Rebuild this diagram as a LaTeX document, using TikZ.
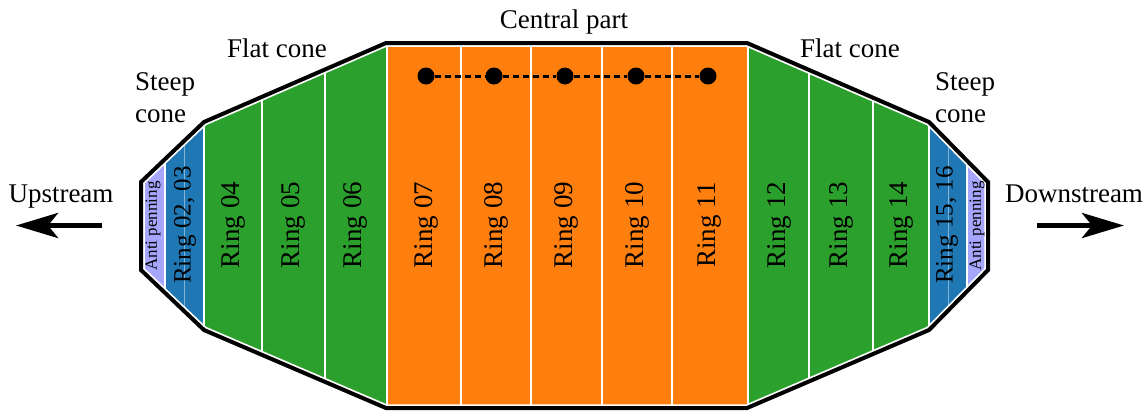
\documentclass[tikz,border=0pt]{standalone}
\usepackage{fontspec}
\setmainfont{Liberation Serif}
\usetikzlibrary{arrows.meta}
\definecolor{cOrange}{HTML}{FF7F0E}
\definecolor{cGreen}{HTML}{2CA02C}
\definecolor{cBlue}{HTML}{1F77B4}
\definecolor{cPurple}{RGB}{166,166,255}
\begin{document}
\begin{tikzpicture}[x=1pt,y=-1pt,
  lbl/.style={font=\fontsize{27}{32}\selectfont, inner sep=0pt},
  ring/.style={font=\fontsize{27}{32}\selectfont, rotate=90, inner sep=0pt},
  ringsm/.style={font=\fontsize{25}{30}\selectfont, rotate=90, inner sep=0pt},
  anti/.style={font=\fontsize{17}{20}\selectfont, rotate=90, inner sep=0pt},
  sep/.style={white, line width=2pt},
  thinsep/.style={white, opacity=0.45, line width=1pt},
  dot/.style={circle, fill=black, minimum size=17pt, inner sep=0pt},
  dline/.style={line width=3pt, dash pattern=on 6.5pt off 3.5pt},
  flow/.style={line width=5pt, -{Stealth[length=42pt,width=25pt,inset=10pt]}}
]
\useasboundingbox (0,0) rectangle (1148,413);
% cells
\begin{scope}
\clip (141,182) -- (204,122) -- (386,43) -- (747,43) -- (929,122) -- (988,182) -- (988,270) -- (929,330) -- (747,408) -- (386,408) -- (204,330) -- (141,270) -- cycle;
\fill[cPurple] (135,0) rectangle (164.5,413);
\fill[cBlue] (164.5,0) rectangle (204,413);
\fill[cGreen] (204,0) rectangle (386.5,413);
\fill[cOrange] (386.5,0) rectangle (747.5,413);
\fill[cGreen] (747.5,0) rectangle (929,413);
\fill[cBlue] (929,0) rectangle (967,413);
\fill[cPurple] (967,0) rectangle (995,413);
\foreach \x in {164.5,204,262,324.5,386.5,461,531,602,672,747.5,809,873,929,967}
  \draw[sep] (\x,0) -- (\x,413);
\foreach \x in {184,948}
  \draw[thinsep] (\x,0) -- (\x,413);
\end{scope}
% outline
\draw[white, line width=7.5pt] (141,182) -- (204,122) -- (386,43) -- (747,43) -- (929,122) -- (988,182) -- (988,270) -- (929,330) -- (747,408) -- (386,408) -- (204,330) -- (141,270) -- cycle;
\draw[black, line width=4pt] (141,182) -- (204,122) -- (386,43) -- (747,43) -- (929,122) -- (988,182) -- (988,270) -- (929,330) -- (747,408) -- (386,408) -- (204,330) -- (141,270) -- cycle;
% ring labels
\node[anti] (apL) at (153,226) {Anti penning};
\node[ringsm] (r0203) at (185,225) {Ring 02, 03};
\node[ring] (r04) at (233,225) {Ring 04};
\node[ring] (r05) at (293.5,225) {Ring 05};
\node[ring] (r06) at (355.5,225) {Ring 06};
\node[ring] (r07) at (426,225) {Ring 07};
\node[ring] (r08) at (496,225) {Ring 08};
\node[ring] (r09) at (566.5,225) {Ring 09};
\node[ring] (r10) at (637,225) {Ring 10};
\node[ring] (r11) at (709.5,225) {Ring 11};
\node[ring] (r12) at (779,225) {Ring 12};
\node[ring] (r13) at (841.5,225) {Ring 13};
\node[ring] (r14) at (901,225) {Ring 14};
\node[ringsm] (r1516) at (947,225) {Ring 15, 16};
\node[anti] (apR) at (977,226) {Anti penning};
% dots
\node[dot] (d1) at (426,76) {};
\node[dot] (d2) at (494,76) {};
\node[dot] (d3) at (565,76) {};
\node[dot] (d4) at (636,76) {};
\node[dot] (d5) at (708,76) {};
\draw[dline] (d1) -- (d2) -- (d3) -- (d4) -- (d5);
% region labels
\node[lbl, anchor=base] (central) at (564,28) {Central part};
\node[lbl, anchor=base] (flatL) at (277,57) {Flat cone};
\node[lbl, anchor=base] (flatR) at (850,57) {Flat cone};
\node[lbl, anchor=base west, align=left] (steepL) at (135,122) {Steep\\cone};
\node[lbl, anchor=base west, align=left] (steepR) at (935,122) {Steep\\cone};
% flow
\node[lbl, anchor=base] (up) at (61,202) {Upstream};
\node[lbl, anchor=base] (down) at (1074,202) {Downstream};
\coordinate (upTail) at (102,225.5);
\coordinate (upTip) at (16,225.5);
\coordinate (downTail) at (1037,225.5);
\coordinate (downTip) at (1124,225.5);
\draw[flow] (upTail) -- (upTip);
\draw[flow] (downTail) -- (downTip);
\end{tikzpicture}
\end{document}
